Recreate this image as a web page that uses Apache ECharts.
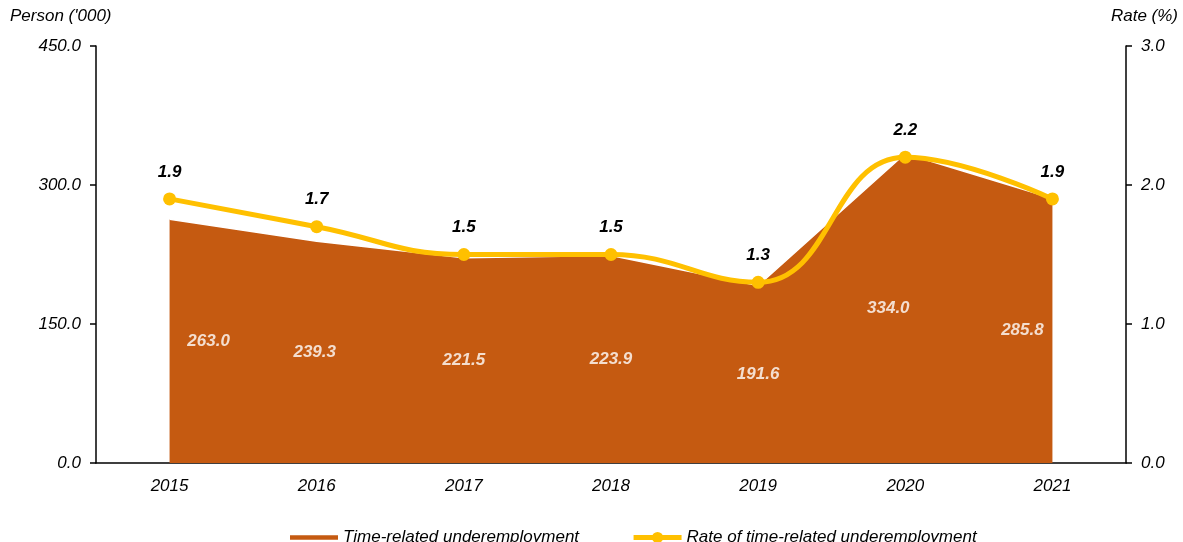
<!DOCTYPE html>
<html>
<head>
<meta charset="utf-8">
<script src="https://cdn.jsdelivr.net/npm/echarts@6/dist/echarts.min.js"></script>
<style>
  html, body { margin: 0; padding: 0; background: #fff; }
  #chart { width: 1183px; height: 542px; }
</style>
</head>
<body>
<div id="chart"></div>
<script>
// Time-related underemployment, 2015-2021
const years = ['2015', '2016', '2017', '2018', '2019', '2020', '2021'];
const persons = [263.0, 239.3, 221.5, 223.9, 191.6, 334.0, 285.8];   // '000 persons
const rates = [1.9, 1.7, 1.5, 1.5, 1.3, 2.2, 1.9];                   // %
const leftTicks = { min: 0, max: 450, interval: 150 };
const rightTicks = { min: 0, max: 3, interval: 1 };

const FONT = '"Liberation Sans", Arial, sans-serif';
const AREA = '#C55A11';
const LINE = '#FFC000';

// horizontal nudges keeping the value labels inside the filled area
const labelShift = { 0: 39, 1: -2, 5: -17, 6: -30 };

const chart = echarts.init(document.getElementById('chart'), null, { renderer: 'canvas' });

const axisText = { color: '#000', fontFamily: FONT, fontStyle: 'italic', fontSize: 17 };

chart.setOption({
  animation: false,
  backgroundColor: '#fff',
  grid: { left: 96, right: 57, top: 46, bottom: 79, containLabel: false },
  legend: {
    left: 285,
    top: 524,
    itemGap: 52,
    itemWidth: 48,
    itemHeight: 14,
    textStyle: { color: '#000', fontFamily: FONT, fontStyle: 'italic', fontSize: 17 },
    data: [
      { name: 'Time-related underemployment', icon: 'path://M0,0 L44,0 L44,4 L0,4 Z',
        itemStyle: { color: AREA } },
      { name: 'Rate of time-related underemployment',
        lineStyle: { color: LINE, width: 5 } }
    ]
  },
  xAxis: {
    type: 'category',
    data: years,
    boundaryGap: true,
    axisLine: { show: true, lineStyle: { color: '#000', width: 1.5 } },
    axisTick: { show: false },
    axisLabel: Object.assign({ margin: 15 }, axisText)
  },
  yAxis: [
    {
      type: 'value',
      min: leftTicks.min, max: leftTicks.max, interval: leftTicks.interval,
      name: "Person ('000)",
      nameLocation: 'end',
      nameGap: 21,
      nameTextStyle: Object.assign({ align: 'left', padding: [0, 0, 0, -86] }, axisText),
      axisLine: { show: true, lineStyle: { color: '#000', width: 1.5 } },
      axisTick: { show: true, length: 6, lineStyle: { color: '#000', width: 1.5 } },
      axisLabel: Object.assign({ margin: 15, formatter: v => v.toFixed(1) }, axisText),
      splitLine: { show: false }
    },
    {
      type: 'value',
      position: 'right',
      min: rightTicks.min, max: rightTicks.max, interval: rightTicks.interval,
      name: 'Rate (%)',
      nameLocation: 'end',
      nameGap: 21,
      nameTextStyle: Object.assign({ align: 'right', padding: [0, -52, 0, 0] }, axisText),
      axisLine: { show: true, lineStyle: { color: '#000', width: 1.5 } },
      axisTick: { show: true, length: 6, lineStyle: { color: '#000', width: 1.5 } },
      axisLabel: Object.assign({ margin: 15, formatter: v => v.toFixed(1) }, axisText),
      splitLine: { show: false }
    }
  ],
  series: [
    {
      name: 'Time-related underemployment',
      type: 'line',
      yAxisIndex: 0,
      data: persons,
      symbol: 'none',
      smooth: false,
      lineStyle: { color: '#fff', width: 1.5 },
      itemStyle: { color: AREA },
      areaStyle: { color: AREA, opacity: 1 },
      z: 1
    },
    {
      // value labels placed halfway up the filled area
      name: 'areaLabels',
      type: 'scatter',
      yAxisIndex: 0,
      symbolSize: 0,
      silent: true,
      data: persons.map((v, i) => ({
        value: [i, v / 2],
        label: { offset: [labelShift[i] || 0, 0] }
      })),
      label: {
        show: true,
        position: 'inside',
        formatter: p => persons[p.dataIndex].toFixed(1),
        color: '#fff',
        fontFamily: FONT,
        fontStyle: 'italic',
        fontWeight: 'bold',
        fontSize: 17
      },
      z: 3
    },
    {
      name: 'Rate of time-related underemployment',
      type: 'line',
      yAxisIndex: 1,
      data: rates,
      smooth: 0.45,
      symbol: 'circle',
      symbolSize: 13,
      showAllSymbol: true,
      lineStyle: { color: LINE, width: 5 },
      itemStyle: { color: LINE },
      label: {
        show: true,
        position: 'top',
        distance: 12,
        formatter: p => p.value.toFixed(1),
        color: '#000',
        fontFamily: FONT,
        fontStyle: 'italic',
        fontWeight: 'bold',
        fontSize: 17
      },
      z: 4
    }
  ]
});
</script>
</body>
</html>
